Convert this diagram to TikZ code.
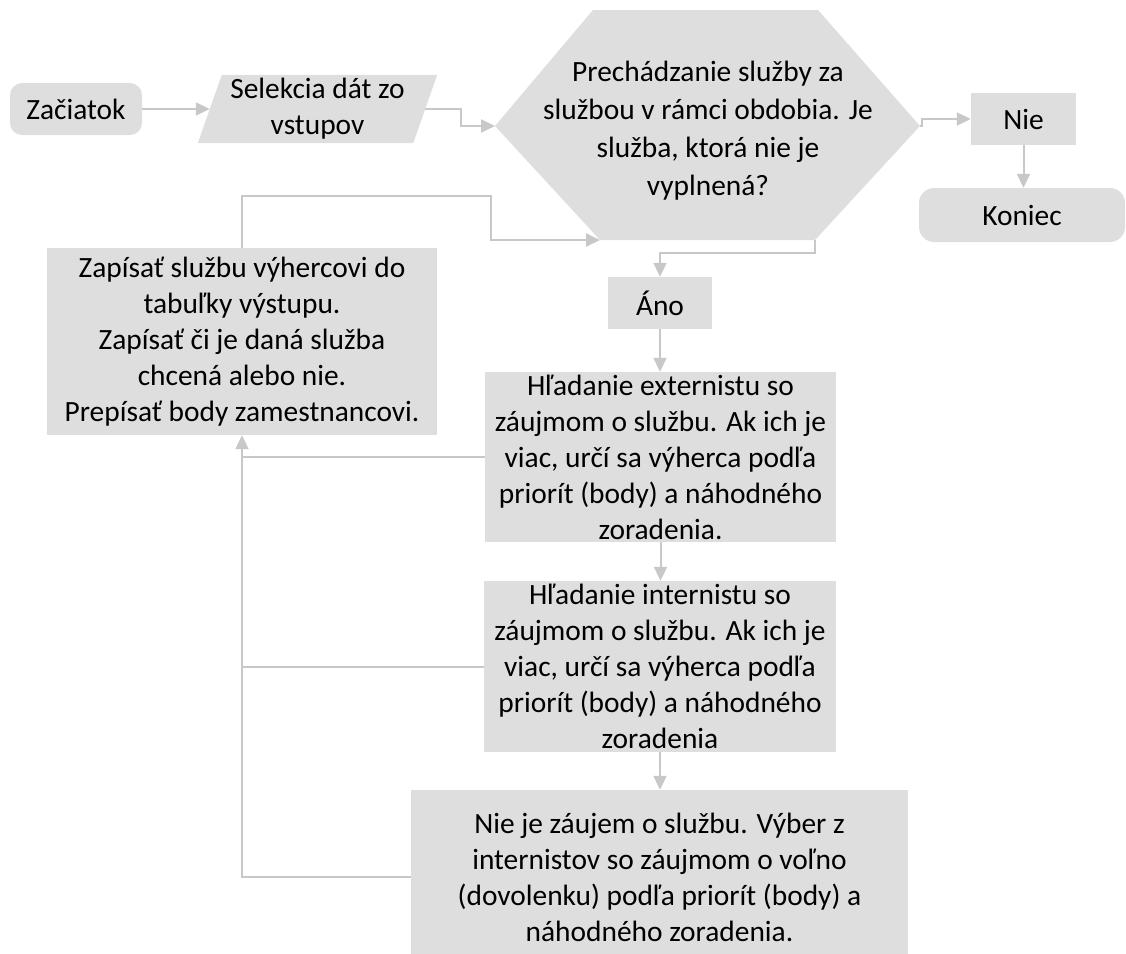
\documentclass[tikz,border=0pt]{standalone}
\usepackage{fontspec}
\setmainfont{Carlito}
\usetikzlibrary{arrows.meta,calc}
\pgfdeclarelayer{bg}
\pgfsetlayers{bg,main}
\definecolor{boxfill}{HTML}{DEDEDE}
\definecolor{linegray}{HTML}{C8C8C8}
\begin{document}
\begin{tikzpicture}[x=1pt, y=-1pt,
  font=\fontsize{29.4}{36}\selectfont,
  box/.style={fill=boxfill, inner sep=0pt, align=center, text=black},
  plain/.style={rectangle, inner sep=0pt, align=center, text=black},
  conn/.style={draw=linegray, line width=2pt, -{Triangle[length=14pt,width=13pt]}},
  link/.style={draw=linegray, line width=2pt}]
\useasboundingbox (0,0) rectangle (1126,953);
\clip (0,0) rectangle (1126,953);

% start / input
\node[box, rounded corners=12pt, minimum width=132pt, minimum height=52pt] (start) at (76,109) {Začiatok};
\node[plain, minimum width=215pt, minimum height=68pt] (sel) at (317.5,109) {Selekcia dát zo\\vstupov};

% decision hexagon corners
\coordinate (hTL) at (593,10);
\coordinate (hTR) at (818,10);
\coordinate (hE)  at (920,126);
\coordinate (hBR) at (815,240);
\coordinate (hBL) at (600,240);
\coordinate (hW)  at (495,126);
\node[plain, font=\fontsize{29.4}{38}\selectfont] (hex) at (708,131)
  {Prechádzanie služby za\\službou v rámci obdobia. Je\\služba, ktorá nie je\\vyplnená?};

% outcomes
\node[box, minimum width=105pt, minimum height=52pt] (nie) at (1023.5,119) {Nie};
\node[box, rounded corners=15pt, minimum width=206pt, minimum height=54pt] (koniec) at (1022,215) {Koniec};
\node[box, minimum width=104pt, minimum height=52pt] (ano) at (660,303) {Áno};

% processing steps
\node[box, minimum width=351pt, minimum height=170pt] (ext) at (660.5,457)
  {Hľadanie externistu so\\záujmom o službu. Ak ich je\\viac, určí sa výherca podľa\\priorít (body) a náhodného\\zoradenia.};
\node[box, minimum width=352pt, minimum height=171pt] (int) at (660,666.5)
  {Hľadanie internistu so\\záujmom o službu. Ak ich je\\viac, určí sa výherca podľa\\priorít (body) a náhodného\\zoradenia};
\node[box, minimum width=497pt, minimum height=174pt] (nieje) at (659.5,877)
  {Nie je záujem o službu. Výber z\\internistov so záujmom o voľno\\(dovolenku) podľa priorít (body) a\\náhodného zoradenia.};
\node[box, minimum width=390pt, minimum height=187pt] (zap) at (242,341.5)
  {Zapísať službu výhercovi do\\tabuľky výstupu.\\Zapísať či je daná služba\\chcená alebo nie.\\Prepísať body zamestnancovi.};

% shape fills behind text
\begin{pgfonlayer}{bg}
  \fill[boxfill] (hTL) -- (hTR) -- (hE) -- (hBR) -- (hBL) -- (hW) -- cycle;
  \fill[boxfill] ($(sel.north west)+(12,0)$) -- ($(sel.north east)+(12,0)$)
     -- ($(sel.south east)+(-12,0)$) -- ($(sel.south west)+(-12,0)$) -- cycle;
\end{pgfonlayer}

% connectors
\draw[conn] (start.east) -- (sel.west);
\draw[conn] (sel.east) -- ++(36,0) |- (hW);
\draw[conn] (hE) -- ++(2,0) |- (nie.west);
\draw[conn] (nie.south) -- (nie.south |- koniec.north);
\draw[conn] (hBR) -- ++(0,13) -| (ano.north);
\draw[conn] (ano.south) -- (ano.south |- ext.north);
\draw[conn] (ext.south) -- (ext.south |- int.north);
\draw[conn] (int.south) -- (int.south |- nieje.north);

% loop back to the decision
\coordinate (ltop) at (491,196);
\draw[conn] (zap.north) |- (ltop) |- (hBL);

% results written back
\draw[conn] (nieje.west) -| (zap.south);
\draw[link] (int.west) -- (int.west -| zap.south);
\draw[link] (ext.west) -- (ext.west -| zap.south);
\end{tikzpicture}
\end{document}
